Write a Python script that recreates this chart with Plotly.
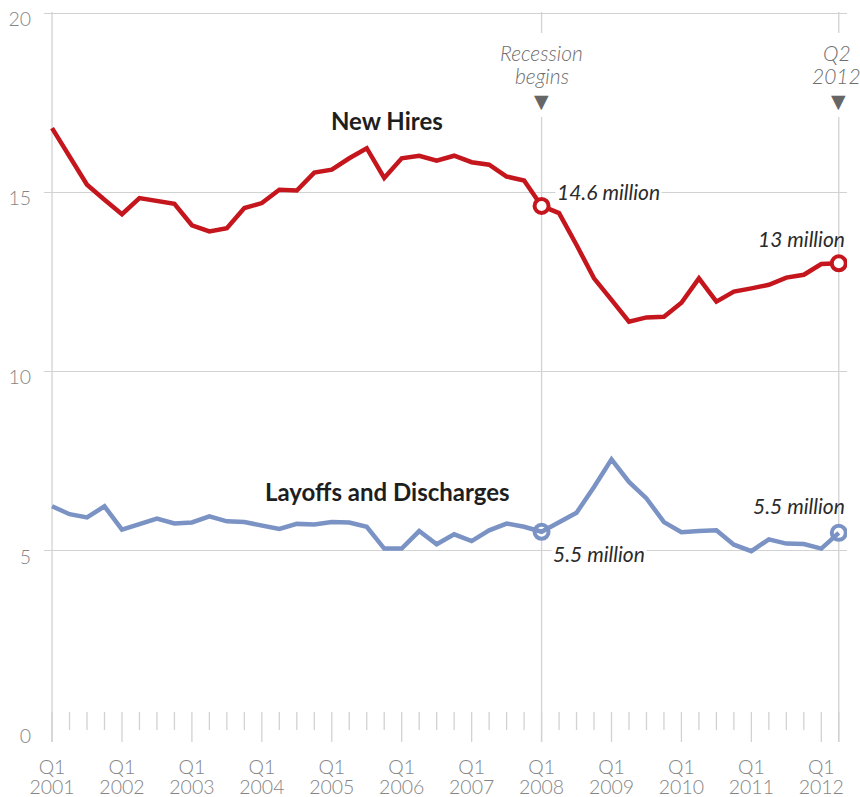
import plotly.graph_objects as go

# ---------------- data ----------------
quarters = [f"Q{q} {y}" for y in range(2001, 2013) for q in range(1, 5)][:46]

new_hires = [16.79, 16.0, 15.21, 14.79, 14.39, 14.84, 14.76, 14.68, 14.08, 13.91,
             14.0, 14.56, 14.70, 15.07, 15.05, 15.55, 15.63, 15.95, 16.23, 15.40,
             15.95, 16.02, 15.88, 16.02, 15.84, 15.77, 15.44, 15.33, 14.62, 14.42,
             13.53, 12.60, 12.0, 11.39, 11.51, 11.53, 11.92, 12.60, 11.95, 12.23,
             12.32, 12.42, 12.62, 12.70, 13.0, 13.02]

layoffs = [6.24, 6.02, 5.93, 6.24, 5.59, 5.74, 5.90, 5.76, 5.79, 5.96,
           5.82, 5.80, 5.69, 5.61, 5.75, 5.73, 5.80, 5.79, 5.67, 5.06,
           5.06, 5.55, 5.18, 5.46, 5.27, 5.57, 5.76, 5.67, 5.53, 5.80,
           6.06, 6.78, 7.55, 6.92, 6.46, 5.80, 5.52, 5.55, 5.57, 5.17,
           4.99, 5.32, 5.20, 5.19, 5.06, 5.50]

tick_quarters = quarters[0::4]
tick_q_labels = ["Q1"] * len(tick_quarters)
tick_year_labels = [str(y) for y in range(2001, 2013)]
y_ticks = [0, 5, 10, 15, 20]

recession_idx = 28   # Q1 2008
last_idx = 45        # Q2 2012

# ---------------- style ----------------
RED = "#C4161C"
BLUE = "#7A93C4"
GRID = "#D2D2D2"
TICKFONT = dict(family="Lato", size=19.5, color="#858585", weight=300)
XRANGE = [-0.46, 45.47]

fig = go.Figure()

fig.add_trace(go.Scatter(x=quarters, y=new_hires, mode="lines",
                         line=dict(color=RED, width=4.5), hoverinfo="skip"))
fig.add_trace(go.Scatter(x=quarters, y=layoffs, mode="lines", xaxis="x2",
                         line=dict(color=BLUE, width=4.5), hoverinfo="skip"))

hl = [recession_idx, last_idx]
fig.add_trace(go.Scatter(x=[quarters[i] for i in hl], y=[new_hires[i] for i in hl],
                         mode="markers", hoverinfo="skip",
                         marker=dict(size=14, color="white", line=dict(color=RED, width=4))))
fig.add_trace(go.Scatter(x=[quarters[i] for i in hl], y=[layoffs[i] for i in hl],
                         mode="markers", hoverinfo="skip",
                         marker=dict(size=14, color="white", line=dict(color=BLUE, width=4))))

# ---------------- ticks / reference lines as shapes ----------------
PH = 718.0
shapes = []
for i, q in enumerate(quarters):
    major = (i % 4 == 0) or i == last_idx
    shapes.append(dict(type="line", xref="x", yref="paper", x0=q, x1=q,
                       y0=(-12 / PH) if major else 0, y1=18 / PH,
                       line=dict(color=GRID, width=1.3), layer="below"))
shapes.append(dict(type="line", xref="x", yref="paper",
                   x0=quarters[0], x1=quarters[0], y0=-12 / PH, y1=1,
                   line=dict(color=GRID, width=1.3), layer="below"))
for i in [recession_idx, last_idx]:
    # reference line, interrupted behind its label
    shapes.append(dict(type="line", xref="x", yref="paper",
                       x0=quarters[i], x1=quarters[i], y0=-12 / PH, y1=(730 - 117) / PH,
                       line=dict(color=GRID, width=1.3), layer="below"))
    shapes.append(dict(type="line", xref="x", yref="paper",
                       x0=quarters[i], x1=quarters[i], y0=(730 - 33) / PH, y1=1,
                       line=dict(color=GRID, width=1.3), layer="below"))

annotations = []
lab_font = dict(family="Lato", size=21, color="#6E6E6E", style="italic", weight=300)
for i, (l1, l2), xs in [(recession_idx, ("Recession", "begins"), 0),
                        (last_idx, ("Q2", "2012"), -2)]:
    annotations.append(dict(x=quarters[i], y=(730 - 52) / PH, xref="x", yref="paper",
                            text=l1, showarrow=False, font=lab_font, xshift=xs,
                            xanchor="center", yanchor="middle"))
    annotations.append(dict(x=quarters[i], y=(730 - 75) / PH, xref="x", yref="paper",
                            text=l2, showarrow=False, font=lab_font, xshift=xs,
                            xanchor="center", yanchor="middle"))
    annotations.append(dict(x=quarters[i], y=(730 - 101) / PH, xref="x", yref="paper",
                            text="▼", showarrow=False,
                            font=dict(family="DejaVu Sans", size=19, color="#666666"),
                            xanchor="center", yanchor="middle"))

val_font = dict(family="Lato", size=21, color="#2B2B2B", style="italic")
annotations += [
    dict(x=quarters[recession_idx], y=new_hires[recession_idx], text="14.6 million",
         showarrow=False, xanchor="left", yanchor="middle", xshift=13, yshift=14,
         font=val_font, bgcolor="white", borderpad=1),
    dict(x=quarters[last_idx], y=new_hires[last_idx], text="13 million",
         showarrow=False, xanchor="right", yanchor="middle", xshift=8, yshift=25,
         font=val_font),
    dict(x=quarters[recession_idx], y=layoffs[recession_idx], text="5.5 million",
         showarrow=False, xanchor="left", yanchor="middle", xshift=9, yshift=-22,
         font=val_font, bgcolor="white", borderpad=1),
    dict(x=quarters[last_idx], y=layoffs[last_idx], text="5.5 million",
         showarrow=False, xanchor="right", yanchor="middle", xshift=8, yshift=27,
         font=val_font),
    dict(x=quarters[19], y=17.0, text="<b>New Hires</b>", showarrow=False,
         xanchor="center", yanchor="middle", xshift=3,
         font=dict(family="Lato", size=24, color="#1E1E1E")),
    dict(x=quarters[19], y=6.66, text="<b>Layoffs and Discharges</b>", showarrow=False,
         xanchor="center", yanchor="middle", xshift=3,
         font=dict(family="Lato", size=24, color="#1E1E1E")),
]

fig.update_layout(
    width=860, height=797, autosize=False,
    margin=dict(l=44, r=13, t=12, b=67),
    paper_bgcolor="white", plot_bgcolor="white",
    showlegend=False,
    shapes=shapes, annotations=annotations,
    xaxis=dict(type="category", range=XRANGE, tickvals=tick_quarters,
               ticktext=tick_q_labels, showgrid=False, zeroline=False, showline=False,
               ticks="", tickfont=TICKFONT, ticklabelstandoff=23, fixedrange=True,
               automargin=False),
    xaxis2=dict(type="category", range=XRANGE, overlaying="x", side="bottom",
                anchor="y", tickvals=tick_quarters, ticktext=tick_year_labels,
                showgrid=False, zeroline=False, showline=False, ticks="",
                tickfont=TICKFONT, ticklabelstandoff=43, fixedrange=True,
                automargin=False),
    yaxis=dict(range=[0, 20.03], tickvals=y_ticks, showgrid=True, gridcolor=GRID,
               gridwidth=1.3, zeroline=False, showline=False, ticks="",
               tickfont=TICKFONT, ticklabelstandoff=12, ticklabelshift=6,
               fixedrange=True, automargin=False),
)

fig.write_html("out.html", config={"displayModeBar": False},
               post_script="document.body.style.margin='0';")
